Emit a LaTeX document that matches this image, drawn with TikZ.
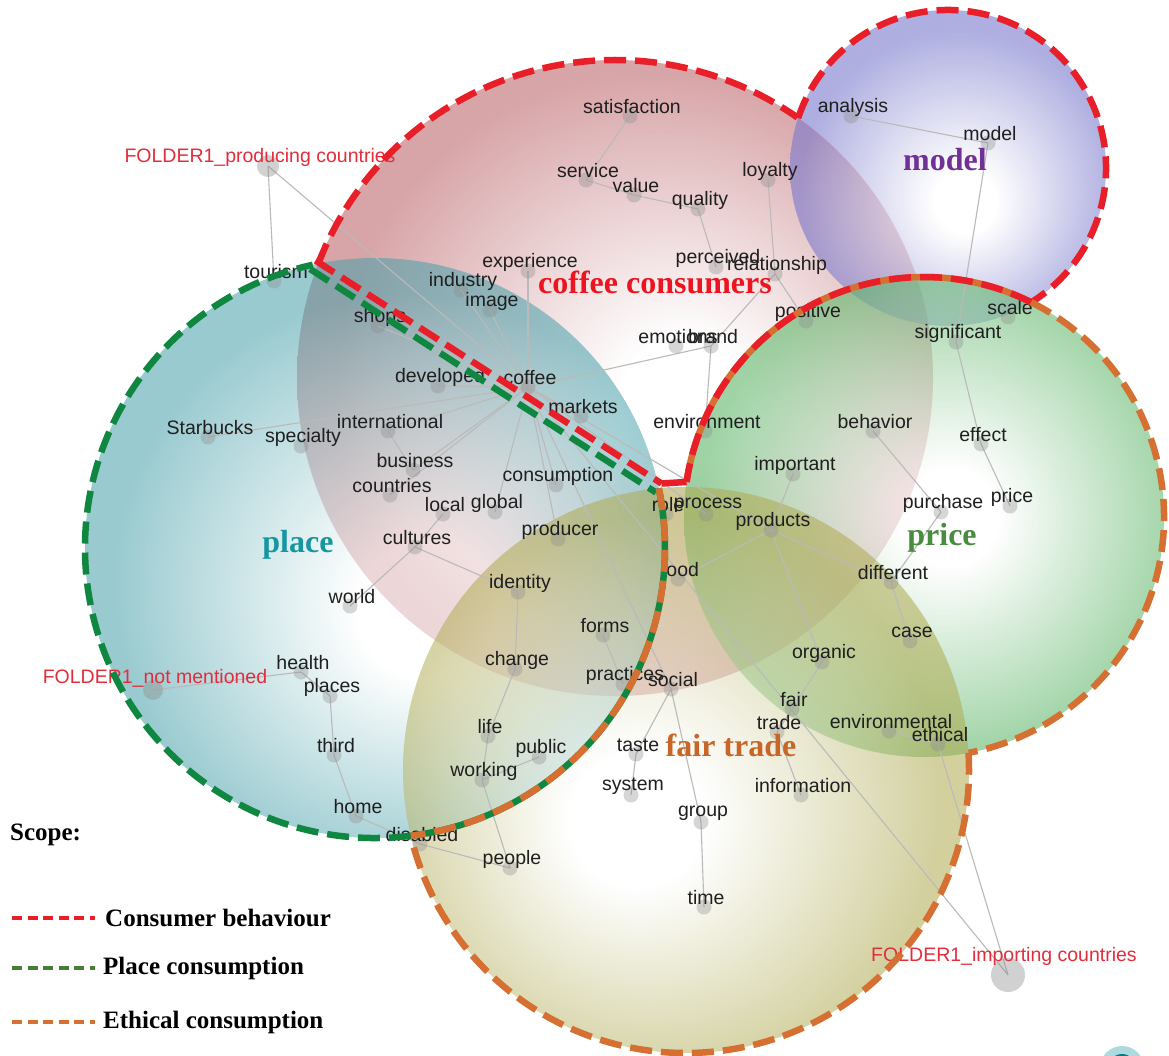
\documentclass[tikz,border=0pt]{standalone}
\usepackage{fontspec}
\setmainfont{Liberation Serif}
\setsansfont{Liberation Sans}
\usetikzlibrary{calc}

% theme fills
\definecolor{fcof}{RGB}{192,110,115}
\definecolor{fmod}{RGB}{120,120,205}
\definecolor{fpri}{RGB}{95,182,105}
\definecolor{fpla}{RGB}{70,160,170}
\definecolor{ffai}{RGB}{175,170,80}
% scope outlines
\definecolor{cred}{RGB}{232,30,40}
\definecolor{cgreen}{RGB}{16,135,65}
\definecolor{corange}{RGB}{214,112,50}
% labels
\definecolor{folderred}{RGB}{226,45,60}
\definecolor{tcof}{RGB}{236,20,30}
\definecolor{tmod}{RGB}{112,48,150}
\definecolor{tpla}{RGB}{22,150,160}
\definecolor{tpri}{RGB}{72,140,62}
\definecolor{tfai}{RGB}{200,102,40}
\definecolor{legreen}{RGB}{70,125,55}

\pgfdeclareradialshading{shcof}{\pgfpoint{6bp}{-2bp}}{color(0bp)=(white); color(5bp)=(white); color(25bp)=(fcof); color(50bp)=(fcof)}
\pgfdeclareradialshading{shmod}{\pgfpoint{3bp}{-6bp}}{color(0bp)=(white); color(5bp)=(white); color(25bp)=(fmod); color(50bp)=(fmod)}
\pgfdeclareradialshading{shpri}{\pgfpoint{3bp}{0bp}}{color(0bp)=(white); color(5bp)=(white); color(25bp)=(fpri); color(50bp)=(fpri)}
\pgfdeclareradialshading{shpla}{\pgfpoint{5bp}{-6bp}}{color(0bp)=(white); color(6bp)=(white); color(25bp)=(fpla); color(50bp)=(fpla)}
\pgfdeclareradialshading{shfai}{\pgfpoint{-5bp}{-5bp}}{color(0bp)=(white); color(6bp)=(white); color(25bp)=(ffai); color(50bp)=(ffai)}

\pgfdeclarelayer{fills}
\pgfdeclarelayer{links}
\pgfdeclarelayer{outlines}
\pgfsetlayers{fills,links,main,outlines}

% concept: dot node named #1 just below its label
\newcommand\cpt[4]{%
  \node[cdot] (#1) at (#2-2,#3+9) {};
  \node[clab] (#1-t) at (#2,#3) {#4};}

\begin{document}
\begin{tikzpicture}[x=1pt,y=-1pt,
  cdot/.style={circle,inner sep=0pt,minimum size=15pt,fill=black!45,fill opacity=0.35,draw=none},
  fdot/.style={circle,inner sep=0pt,fill=black!45,fill opacity=0.4,draw=none},
  clab/.style={font=\sffamily\fontsize{19.5}{20}\selectfont,text=black!88,inner sep=0pt},
  flab/.style={clab,text=folderred},
  link/.style={draw=black!27,line width=1.1pt},
  bord/.style={line width=6.5pt,dash pattern=on 22pt off 9pt},
  under/.style={line width=6.5pt},
  theme/.style={font=\rmfamily\bfseries\fontsize{32}{32}\selectfont,inner sep=0pt},
  legtxt/.style={font=\rmfamily\bfseries\fontsize{25}{25}\selectfont,inner sep=0pt,anchor=west},
  legdash/.style={line width=3.6pt,dash pattern=on 10pt off 5.5pt}]

\useasboundingbox (0,0) rectangle (1169,1056);

% ---------- theme circles ----------
\begin{pgfonlayer}{fills}
  \fill[white] (0,0) rectangle (1169,1056);
  \shade[shading=shcof,fill opacity=0.62] (615,378) circle (318);
  \shade[shading=shpla,fill opacity=0.55] (375,548) circle (290);
  \shade[shading=shmod,fill opacity=0.6] (948,168) circle (158);
  \shade[shading=shpri,fill opacity=0.6] (924,517) circle (240);
  \shade[shading=shfai,fill opacity=0.55] (686,770) circle (283);
  % corner mark
  \fill[tpla!35] (1122,1068) circle (22);
  \fill[tpla!80!black] (1122,1068) circle (14);
\end{pgfonlayer}

% ---------- concepts ----------
\cpt{satisfaction}{632}{107}{satisfaction}
\cpt{service}{588}{171}{service}
\cpt{value}{636}{186}{value}
\cpt{loyalty}{770}{171}{loyalty}
\cpt{quality}{700}{200}{quality}
\cpt{analysis}{853}{107}{analysis}
\cpt{modelw}{990}{134}{model}
\cpt{experience}{530}{262}{experience}
\cpt{industry}{463}{281}{industry}
\cpt{image}{492}{301}{image}
\cpt{perceived}{718}{258}{perceived}
\cpt{relationship}{777}{265}{relationship}
\cpt{tourism}{276}{272}{tourism}
\cpt{shops}{380}{317}{shops}
\cpt{positive}{808}{312}{positive}
\cpt{scale}{1010}{308}{scale}
\cpt{significant}{958}{333}{significant}
\cpt{emotions}{678}{337}{emotions}
\cpt{brand}{713}{337}{brand}
\cpt{developed}{440}{377}{developed}
\cpt{coffee}{530}{378}{coffee}
\cpt{markets}{583}{407}{markets}
\cpt{starbucks}{210}{428}{Starbucks}
\cpt{specialty}{303}{437}{specialty}
\cpt{international}{390}{422}{international}
\cpt{environment}{707}{422}{environment}
\cpt{behavior}{875}{422}{behavior}
\cpt{effect}{983}{435}{effect}
\cpt{business}{415}{461}{business}
\cpt{countries}{392}{486}{countries}
\cpt{consumption}{558}{476}{consumption}
\cpt{important}{795}{465}{important}
\cpt{local}{445}{505}{local}
\cpt{global}{497}{503}{global}
\cpt{role}{668}{505}{role}
\cpt{process}{708}{505}{process}
\cpt{products}{773}{521}{products}
\cpt{purchase}{943}{503}{purchase}
\cpt{pricew}{1012}{497}{price}
\cpt{producer}{560}{530}{producer}
\cpt{cultures}{417}{538}{cultures}
\cpt{food}{680}{570}{food}
\cpt{different}{893}{573}{different}
\cpt{identity}{520}{583}{identity}
\cpt{world}{352}{597}{world}
\cpt{forms}{605}{626}{forms}
\cpt{case}{912}{632}{case}
\cpt{organic}{824}{653}{organic}
\cpt{health}{303}{663}{health}
\cpt{places}{332}{687}{places}
\cpt{change}{517}{660}{change}
\cpt{practices}{625}{675}{practices}
\cpt{social}{673}{680}{social}
\cpt{fair}{794}{700}{fair}
\cpt{trade}{779}{723}{trade}
\cpt{environmental}{891}{722}{environmental}
\cpt{ethical}{940}{735}{ethical}
\cpt{life}{490}{727}{life}
\cpt{third}{336}{746}{third}
\cpt{public}{541}{748}{public}
\cpt{taste}{638}{745}{taste}
\cpt{working}{484}{771}{working}
\cpt{system}{633}{786}{system}
\cpt{information}{803}{786}{information}
\cpt{group}{703}{813}{group}
\cpt{home}{358}{807}{home}
\cpt{disabled}{422}{835}{disabled}
\cpt{people}{512}{859}{people}
\cpt{time}{706}{898}{time}

% folder tags
\node[fdot,minimum size=22pt] (prodc) at (268,166) {};
\node[flab] at (260,157) {FOLDER1\_producing countries};
\node[fdot,minimum size=20pt] (notm) at (153,690) {};
\node[flab] at (155,678) {FOLDER1\_not mentioned};
\node[fdot,minimum size=34pt] (impc) at (1008,975) {};
\node[flab] at (1004,956) {FOLDER1\_importing countries};

% ---------- links ----------
\begin{pgfonlayer}{links}
\foreach \a/\b in {prodc/tourism,prodc/coffee,
  coffee/experience,coffee/industry,coffee/image,coffee/shops,coffee/developed,
  coffee/starbucks,coffee/international,coffee/business,coffee/countries,
  coffee/global,coffee/consumption,coffee/producer,coffee/markets,coffee/brand,
  coffee/process,coffee/products,coffee/social,coffee/impc,
  satisfaction/service,service/value,value/quality,quality/perceived,
  loyalty/relationship,relationship/positive,relationship/brand,brand/environment,
  analysis/modelw,modelw/significant,significant/effect,effect/pricew,
  behavior/purchase,purchase/different,important/products,products/different,
  products/food,products/organic,different/case,organic/fair,fair/trade,
  trade/information,ethical/impc,environmental/ethical,social/taste,taste/system,
  social/group,group/time,forms/practices,international/business,local/cultures,
  cultures/world,cultures/identity,identity/change,change/life,life/working,
  working/public,working/people,notm/health,health/places,places/third,
  third/home,home/disabled,disabled/people}
  \draw[link] (\a.center) -- (\b.center);
\end{pgfonlayer}

% ---------- scope outlines ----------
\begin{pgfonlayer}{outlines}
  % consumer behaviour
  \draw[bord,cred] (615,378) ++(-159:318) arc[start angle=-159,end angle=-55,radius=318];
  \draw[bord,cred] (948,168) ++(-161.6:158) arc[start angle=-161.6,end angle=58.2,radius=158];
  \draw[under,corange] (924,517) ++(-63.5:240) arc[start angle=-63.5,end angle=-171.6,radius=240];
  \draw[bord,cred] (924,517) ++(-63.5:240) arc[start angle=-63.5,end angle=-171.6,radius=240];
  \coordinate (pj) at ($(924,517)+(-171.6:240)$);
  \coordinate (cj) at (661.5,483.5);
  \draw[cred,line width=6.5pt,line join=round] (pj) -- (cj);
  % shared chord of consumer behaviour and place consumption
  \coordinate (ta) at (315.5,260.5);
  \draw[bord,cred] (ta) -- (cj);
  \coordinate (tb) at (310,269);
  \coordinate (cb) at (656,492.5);
  \draw[bord,cgreen] (tb) -- (cb);
  % ethical consumption
  \draw[bord,corange] (924,517) ++(-63.5:240) arc[start angle=-63.5,end angle=79.3,radius=240];
  \draw[bord,corange] (686,770) ++(-3.5:283) arc[start angle=-3.5,end angle=166.8,radius=283];
  % place consumption
  \draw[bord,cgreen] (375,548) ++(82.9:290) arc[start angle=82.9,end angle=257.6,radius=290];
  \draw[under,cgreen] (375,548) ++(-11.9:290) arc[start angle=-11.9,end angle=82.9,radius=290];
  \draw[bord,corange] (375,548) ++(-11.9:290) arc[start angle=-11.9,end angle=82.9,radius=290];

  % theme names
  \node[theme,text=tcof] at (655,282) {coffee consumers};
  \node[theme,text=tmod] at (945,160) {model};
  \node[theme,text=tpla] at (298,545) {place};
  \node[theme,text=tpri] at (942,538) {price};
  \node[theme,text=tfai] at (731,745) {fair trade};
\end{pgfonlayer}

% ---------- legend ----------
\node[legtxt] (scope) at (10,835) {Scope:};
\node[legtxt] (lcb) at (105,918) {Consumer behaviour};
\node[legtxt] (lpc) at (103,968) {Place consumption};
\node[legtxt] (lec) at (103,1022) {Ethical consumption};
\draw[legdash,cred] ($(lcb.west)+(-93,0)$) -- ($(lcb.west)+(-10,0)$);
\draw[legdash,legreen] ($(lpc.west)+(-91,0)$) -- ($(lpc.west)+(-8,0)$);
\draw[legdash,corange] ($(lec.west)+(-91,0)$) -- ($(lec.west)+(-8,0)$);
\end{tikzpicture}
\end{document}
